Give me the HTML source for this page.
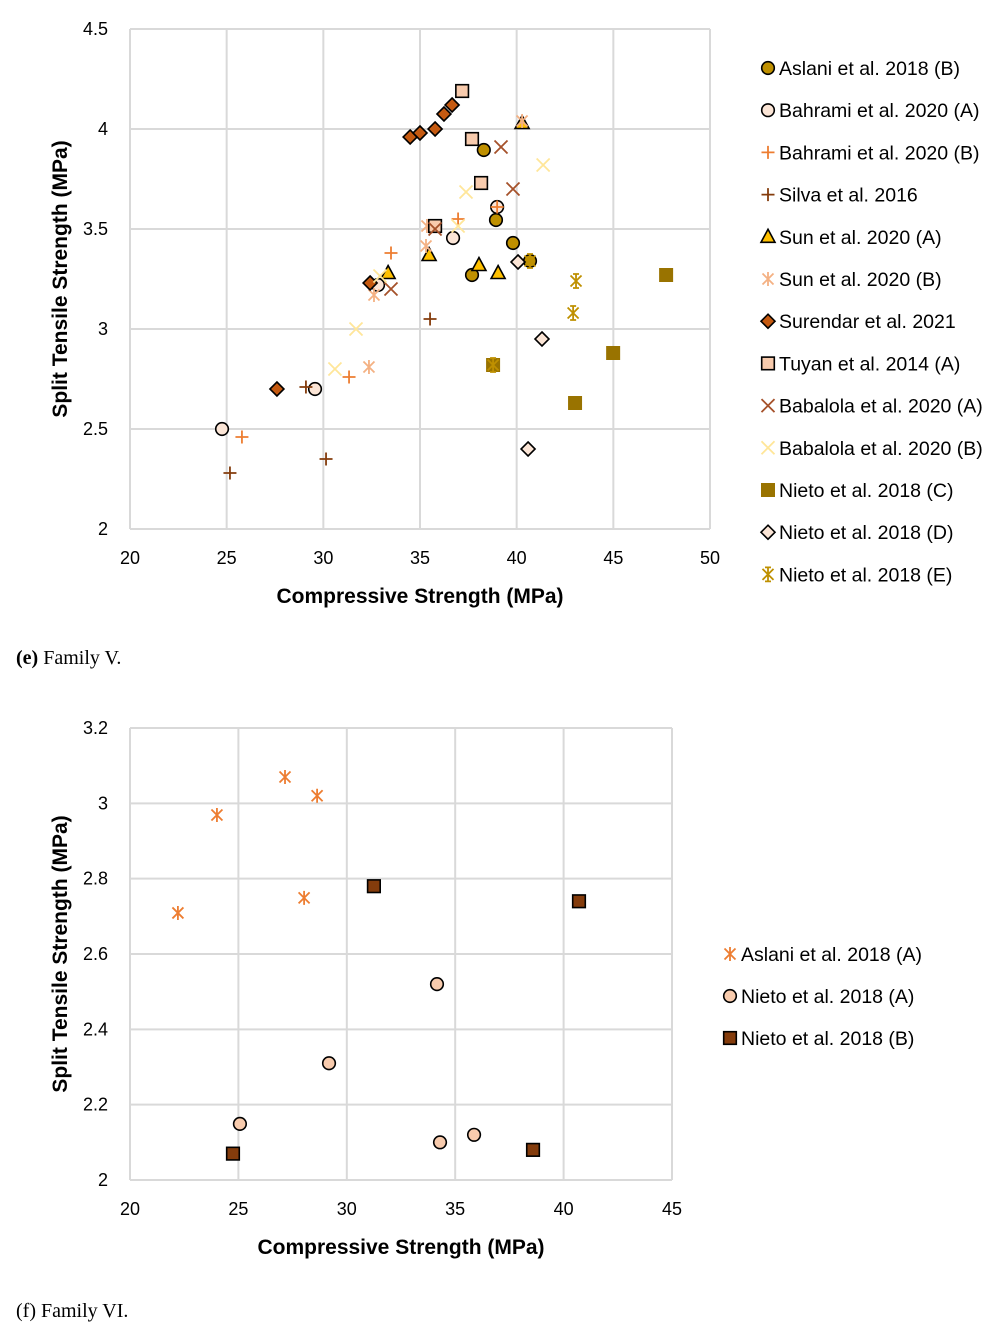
<!DOCTYPE html>
<html><head><meta charset="utf-8"><style>
body{margin:0;background:#fff;}
svg{display:block;font-family:"Liberation Sans",sans-serif;}
.cap{font-family:"Liberation Serif",serif;font-size:20px;fill:#000;}
</style></head><body>
<svg id="s" width="998" height="1332">
<text class="cap" x="16" y="664"><tspan font-weight="bold">(e)</tspan> Family V.</text>
<text class="cap" x="16" y="1317">(f) Family VI.</text>
</svg>
<script>
// ---- Chart E data ----
const eXTicks=[20,25,30,35,40,45,50];
const eYTicks=[2,2.5,3,3.5,4,4.5];
const eSeriesNames=["Aslani et al. 2018 (B)","Bahrami et al. 2020 (A)","Bahrami et al. 2020 (B)","Silva et al. 2016","Sun et al. 2020 (A)","Sun et al. 2020 (B)","Surendar et al. 2021","Tuyan et al. 2014 (A)","Babalola et al. 2020 (A)","Babalola et al. 2020 (B)","Nieto et al. 2018 (C)","Nieto et al. 2018 (D)","Nieto et al. 2018 (E)"];
const eAslaniB_x=[38.3,38.93,39.81,37.69,40.69]; const eAslaniB_y=[3.895,3.545,3.43,3.27,3.34];
const eBahramiA_x=[24.76,29.57,32.83,36.71,38.99]; const eBahramiA_y=[2.5,2.7,3.22,3.455,3.61];
const eBahramiB_x=[25.79,31.33,33.5,36.97,38.99]; const eBahramiB_y=[2.46,2.76,3.38,3.55,3.61];
const eSilva_x=[25.17,29.1,30.14,35.52]; const eSilva_y=[2.28,2.71,2.35,3.05];
const eSunA_x=[33.35,35.47,38.05,39.04,40.28]; const eSunA_y=[3.28,3.37,3.32,3.28,4.03];
const eSunB_x=[32.62,32.36,35.31,35.36,40.28]; const eSunB_y=[3.17,2.81,3.415,3.515,4.04];
const eSurendar_x=[27.6,32.42,34.49,35.0,35.78,36.24,36.66]; const eSurendar_y=[2.7,3.23,3.96,3.98,4.0,4.075,4.12];
const eTuyanA_x=[37.18,37.69,38.16,35.78]; const eTuyanA_y=[4.19,3.95,3.73,3.515];
const eBabA_x=[39.19,39.81,35.78,33.5]; const eBabA_y=[3.91,3.7,3.5,3.2];
const eBabB_x=[37.38,41.37,36.97,32.93,31.69,30.6]; const eBabB_y=[3.685,3.82,3.515,3.265,3.0,2.8];
const eNietoC_x=[47.73,44.99,43.02,38.78]; const eNietoC_y=[3.27,2.88,2.63,2.82];
const eNietoD_x=[40.59,41.31,40.07]; const eNietoD_y=[2.4,2.95,3.335];
const eNietoE_x=[43.07,42.92,40.69,38.78]; const eNietoE_y=[3.24,3.08,3.34,2.82];
// ---- Chart F data ----
const fXTicks=[20,25,30,35,40,45];
const fYTicks=[2,2.2,2.4,2.6,2.8,3,3.2];
const fSeriesNames=["Aslani et al. 2018 (A)","Nieto et al. 2018 (A)","Nieto et al. 2018 (B)"];
const fAslaniA_x=[22.21,24.01,27.15,28.63,28.03]; const fAslaniA_y=[2.709,2.969,3.07,3.02,2.749];
const fNietoA_x=[25.07,29.18,34.16,34.3,35.87]; const fNietoA_y=[2.149,2.31,2.52,2.10,2.12];
const fNietoB_x=[24.75,31.25,40.71,38.59]; const fNietoB_y=[2.07,2.78,2.74,2.08];

const NS="http://www.w3.org/2000/svg";
const svg=document.getElementById('s');
function mk(tag,attrs,parent){const e=document.createElementNS(NS,tag);for(const k in attrs)e.setAttribute(k,attrs[k]);(parent||svg).appendChild(e);return e;}

function marker(g,type,cx,cy,fill){
  if(type==='circle')return mk('circle',{cx,cy,r:6.3,fill,stroke:'#000','stroke-width':1.6},g);
  if(type==='square')return mk('rect',{x:cx-6.3,y:cy-6.3,width:12.6,height:12.6,fill,stroke:'#000','stroke-width':1.6},g);
  if(type==='fsquare')return mk('rect',{x:cx-7,y:cy-7,width:14,height:14,fill,stroke:'none'},g);
  if(type==='diamond')return mk('path',{d:`M${cx} ${cy-7}L${cx+7} ${cy}L${cx} ${cy+7}L${cx-7} ${cy}Z`,fill,stroke:'#000','stroke-width':1.6},g);
  if(type==='tri')return mk('path',{d:`M${cx} ${cy-7.5}L${cx+7} ${cy+5.5}L${cx-7} ${cy+5.5}Z`,fill,stroke:'#000','stroke-width':1.6},g);
  if(type==='plus')return mk('path',{d:`M${cx-6.5} ${cy}H${cx+6.5}M${cx} ${cy-6.5}V${cy+6.5}`,stroke:fill,'stroke-width':1.8,fill:'none'},g);
  if(type==='x')return mk('path',{d:`M${cx-6.5} ${cy-6.5}L${cx+6.5} ${cy+6.5}M${cx+6.5} ${cy-6.5}L${cx-6.5} ${cy+6.5}`,stroke:fill,'stroke-width':1.8,fill:'none'},g);
  if(type==='star')return mk('path',{d:`M${cx-5.5} ${cy-5.5}L${cx+5.5} ${cy+5.5}M${cx+5.5} ${cy-5.5}L${cx-5.5} ${cy+5.5}M${cx} ${cy-7}V${cy+7}`,stroke:fill,'stroke-width':1.8,fill:'none'},g);
  if(type==='star2')return mk('path',{d:`M${cx-5.5} ${cy-5.5}L${cx+5.5} ${cy+5.5}M${cx+5.5} ${cy-5.5}L${cx-5.5} ${cy+5.5}M${cx} ${cy-7}V${cy+7}M${cx-3} ${cy-7}H${cx+3}M${cx-3} ${cy+7}H${cx+3}`,stroke:fill,'stroke-width':1.8,fill:'none'},g);
}

function chart(opt){
  const {L,R,T,B,x0,x1,y0,y1,xt,yt,series,name,yfmt,legX,legY,legStep}=opt;
  const g=mk('g',{});
  
  
  const sx=v=>L+(v-x0)/(x1-x0)*(R-L);
  const sy=v=>B-(v-y0)/(y1-y0)*(B-T);
  xt.forEach(v=>{const l=mk('line',{x1:sx(v),x2:sx(v),y1:T,y2:B,stroke:'#d9d9d9','stroke-width':2},g);
    
    const t=mk('text',{x:sx(v),y:B+35,'text-anchor':'middle','font-size':18,fill:'#000'},g);t.textContent=v;
    });
  yt.forEach(v=>{const l=mk('line',{x1:L,x2:R,y1:sy(v),y2:sy(v),stroke:'#d9d9d9','stroke-width':2},g);
    
    const t=mk('text',{x:L-22,y:sy(v)+6,'text-anchor':'end','font-size':18,fill:'#000'},g);t.textContent=yfmt(v);
    });
  const xtT=mk('text',{x:(L+R)/2,y:B+74,'text-anchor':'middle','font-size':21,'font-weight':'bold'},g);xtT.textContent='Compressive Strength (MPa)';
  
  const ytT=mk('text',{x:0,y:0,'text-anchor':'middle','font-size':21,'font-weight':'bold',transform:`translate(67,${(T+B)/2}) rotate(-90)`},g);ytT.textContent='Split Tensile Strength (MPa)';
  
  series.forEach((s,i)=>{
    const sg=mk('g',{},g);
    
    
    s.x.forEach((xv,j)=>{const m=marker(sg,s.type,sx(xv),sy(s.y[j]),s.color);
      });
    const lg=mk('g',{},g);
    
    
    const ly=legY+i*legStep;
    marker(lg,s.type,legX,ly,s.color);
    const t=mk('text',{x:legX+11,y:ly+7,'font-size':19.5,fill:'#000'},lg);t.textContent=s.name;
  });
}
const nm=eSeriesNames;
chart({name:'chart-family-v',L:130,R:710,T:29,B:529,x0:20,x1:50,y0:2,y1:4.5,xt:eXTicks,yt:eYTicks,yfmt:v=>String(v),legX:768,legY:68,legStep:42.2,
series:[
{name:nm[0],x:eAslaniB_x,y:eAslaniB_y,type:'circle',color:'#BF9000'},
{name:nm[1],x:eBahramiA_x,y:eBahramiA_y,type:'circle',color:'#FBE5D6'},
{name:nm[2],x:eBahramiB_x,y:eBahramiB_y,type:'plus',color:'#ED7D31'},
{name:nm[3],x:eSilva_x,y:eSilva_y,type:'plus',color:'#843C0C'},
{name:nm[4],x:eSunA_x,y:eSunA_y,type:'tri',color:'#FFC000'},
{name:nm[5],x:eSunB_x,y:eSunB_y,type:'star',color:'#F4B183'},
{name:nm[6],x:eSurendar_x,y:eSurendar_y,type:'diamond',color:'#C55A11'},
{name:nm[7],x:eTuyanA_x,y:eTuyanA_y,type:'square',color:'#F8CBAD'},
{name:nm[8],x:eBabA_x,y:eBabA_y,type:'x',color:'#A5512A'},
{name:nm[9],x:eBabB_x,y:eBabB_y,type:'x',color:'#FFE699'},
{name:nm[10],x:eNietoC_x,y:eNietoC_y,type:'fsquare',color:'#997300'},
{name:nm[11],x:eNietoD_x,y:eNietoD_y,type:'diamond',color:'#FBE5D6'},
{name:nm[12],x:eNietoE_x,y:eNietoE_y,type:'star2',color:'#BF9000'}]});
chart({name:'chart-family-vi',L:130,R:672,T:728,B:1180,x0:20,x1:45,y0:2,y1:3.2,xt:fXTicks,yt:fYTicks,yfmt:v=>(v===2||v===3)?String(v):v.toFixed(1),legX:730,legY:954,legStep:42,
series:[
{name:fSeriesNames[0],x:fAslaniA_x,y:fAslaniA_y,type:'star',color:'#ED7D31'},
{name:fSeriesNames[1],x:fNietoA_x,y:fNietoA_y,type:'circle',color:'#F8CBAD'},
{name:fSeriesNames[2],x:fNietoB_x,y:fNietoB_y,type:'square',color:'#843C0C'}]});
</script>
</body></html>
